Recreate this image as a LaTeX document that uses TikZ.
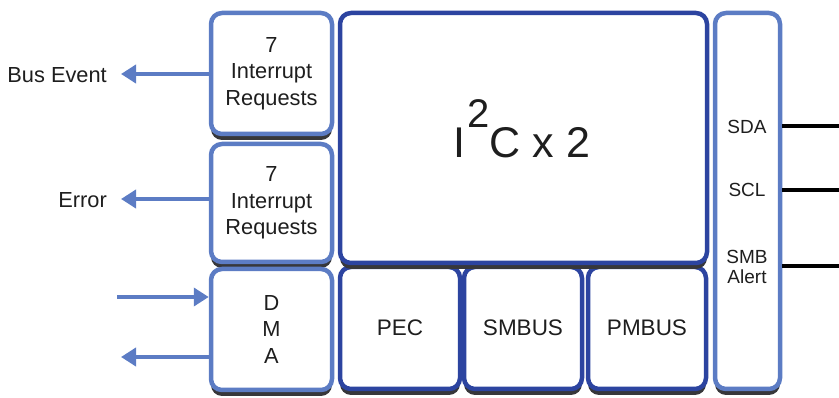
\documentclass[tikz,border=0pt]{standalone}
\usepackage{fontspec}
\setmainfont{Liberation Sans}
\usetikzlibrary{arrows.meta,shadows}
\definecolor{lblue}{RGB}{92,124,196}
\definecolor{dblue}{RGB}{44,68,160}
\definecolor{shad}{RGB}{55,55,58}
\definecolor{txt}{RGB}{30,30,30}
\begin{document}
\begin{tikzpicture}[x=1pt,y=-1pt,
  box/.style={draw, fill=white, rounded corners=11pt, line width=4.5pt, align=center,
    text=txt, inner sep=0pt,
    drop shadow={shadow xshift=0pt, shadow yshift=-6pt, fill=shad, opacity=1}},
  lbox/.style={box, draw=lblue, font=\fontsize{21.8}{26.5}\selectfont},
  dbox/.style={box, draw=dblue, font=\fontsize{22.5}{26}\selectfont},
  lbl/.style={text=txt, inner sep=0pt, align=center},
  arr/.style={draw=lblue, line width=4pt, -{Triangle[length=15pt,width=18pt]}},
  wire/.style={draw=black, line width=4pt}]
\useasboundingbox (0,0) rectangle (839,398);
% bottom row and main block
\node[dbox, minimum width=120pt, minimum height=122pt] (pec) at (400,328) {PEC};
\node[dbox, minimum width=118pt, minimum height=122pt] (smb) at (523,328) {SMBUS};
\node[dbox, minimum width=118pt, minimum height=122pt] (pmb) at (647,328) {PMBUS};
\node[dbox, minimum width=367pt, minimum height=250pt] (i2c) at (523.5,138) {};
\node[lbl, anchor=base, font=\fontsize{43}{43}\selectfont] (i2ct) at (522,158)
  {I\kern2pt\raisebox{30pt}{\fontsize{40}{40}\selectfont 2}C x 2};
% left column
\node[lbox, minimum width=121pt, minimum height=121pt] (b1) at (271.5,73.5) {7\\Interrupt\\Requests};
\node[lbox, minimum width=121pt, minimum height=118pt] (b2) at (271.5,203) {7\\Interrupt\\Requests};
\node[lbox, minimum width=121pt, minimum height=121pt] (b3) at (271.5,329.5) {D\\M\\A};
% right column
\node[lbox, minimum width=65pt, minimum height=376pt] (rb) at (747.5,201) {};
\node[lbl, font=\fontsize{19}{20.5}\selectfont] (sda) at (747,127) {SDA};
\node[lbl, font=\fontsize{19}{20.5}\selectfont] (scl) at (747,190) {SCL};
\node[lbl, font=\fontsize{19}{20.5}\selectfont] (sma) at (747,267) {SMB\\Alert};
% left labels and arrows
\node[lbl, anchor=east, font=\fontsize{21.8}{24}\selectfont] (be) at (107,75) {Bus Event};
\node[lbl, anchor=east, font=\fontsize{21.8}{24}\selectfont] (er) at (107,200) {Error};
\coordinate (betip) at (121,74);
\coordinate (ertip) at (121,199);
\coordinate (din) at (117,297);
\coordinate (dout) at (121,357);
\draw[arr] (b1.west |- betip) -- (betip);
\draw[arr] (b2.west |- ertip) -- (ertip);
\draw[arr] (din) -- (din -| b3.west);
\draw[arr] (b3.west |- dout) -- (dout);
% right wires
\coordinate (sdae) at (839,126);
\coordinate (scle) at (839,190);
\coordinate (smae) at (839,266);
\draw[wire] (rb.east |- sdae) -- (sdae);
\draw[wire] (rb.east |- scle) -- (scle);
\draw[wire] (rb.east |- smae) -- (smae);
\end{tikzpicture}
\end{document}
